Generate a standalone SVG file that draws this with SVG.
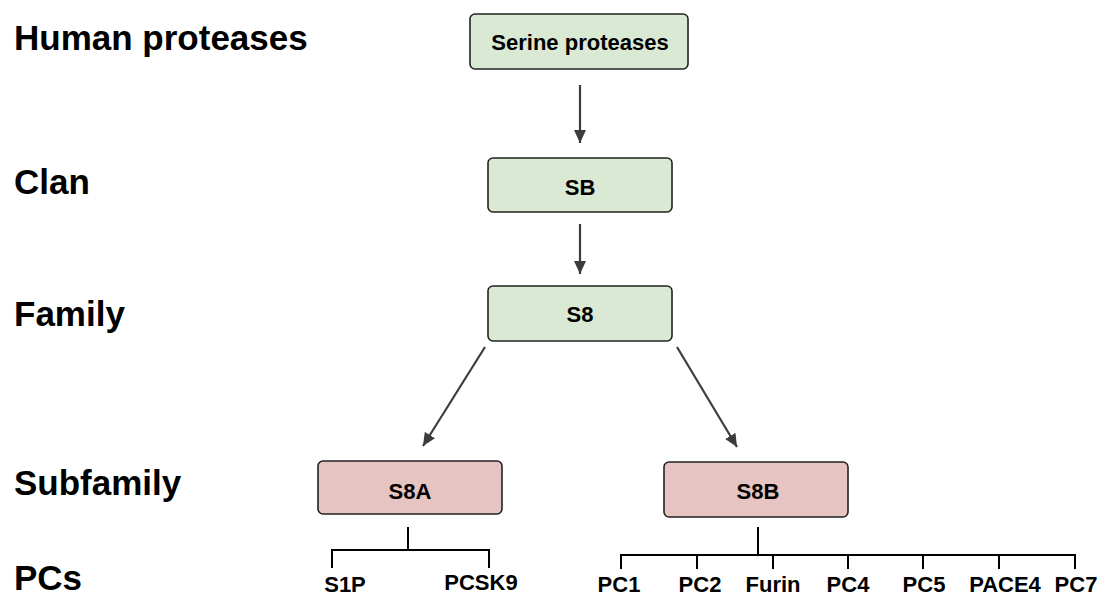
<svg xmlns="http://www.w3.org/2000/svg" width="1102" height="598" viewBox="0 0 1102 598">
<style>
.lbl{font-family:"Liberation Sans",Arial,sans-serif;font-weight:bold;font-size:35px;fill:#000}
.nt{font-family:"Liberation Sans",Arial,sans-serif;font-weight:bold;font-size:22px;fill:#000;text-anchor:middle}
.green{fill:#d9e9d4;stroke:#222;stroke-width:1.6}
.pink{fill:#e6c4c2;stroke:#222;stroke-width:1.6}
.arr{stroke:#3c3c3c;stroke-width:2.2;fill:none;marker-end:url(#ah)}
.br{stroke:#000;stroke-width:2;fill:none}
</style>
<defs>
<marker id="ah" markerUnits="userSpaceOnUse" markerWidth="14" markerHeight="12" refX="13" refY="6" orient="auto">
<path d="M0,0 L13,6 L0,12 Z" fill="#3c3c3c"/>
</marker>
</defs>
<rect width="1102" height="598" fill="#fff"/>
<g id="levels">
<text class="lbl" x="14" y="50">Human proteases</text>
<text class="lbl" x="14" y="194">Clan</text>
<text class="lbl" x="14" y="326">Family</text>
<text class="lbl" x="14" y="495">Subfamily</text>
<text class="lbl" x="14" y="590">PCs</text>
</g>
<g id="n-serine"><rect class="green" x="470" y="14" width="218" height="55" rx="5"/><text class="nt" x="580" y="50">Serine proteases</text></g>
<g id="n-sb"><rect class="green" x="488" y="158" width="184" height="54" rx="5"/><text class="nt" x="580" y="195">SB</text></g>
<g id="n-s8"><rect class="green" x="488" y="286" width="184" height="55" rx="5"/><text class="nt" x="580" y="322">S8</text></g>
<g id="n-s8a"><rect class="pink" x="318" y="461" width="184" height="53" rx="5"/><text class="nt" x="410" y="499">S8A</text></g>
<g id="n-s8b"><rect class="pink" x="664" y="462" width="184" height="55" rx="5"/><text class="nt" x="758" y="499">S8B</text></g>
<g id="connectors">
<line class="arr" x1="580" y1="85" x2="580" y2="143"/>
<line class="arr" x1="580" y1="224" x2="580" y2="274"/>
<line class="arr" x1="485" y1="347" x2="423" y2="446"/>
<line class="arr" x1="677" y1="347" x2="737" y2="447"/>
<path class="br" d="M408,527 V550 M332,550 H489 M332,549 V568 M489,549 V568"/>
<path class="br" d="M758,527 V555 M621,555 H1075 M621,554 V569 M697,554 V569 M773,554 V569 M848,554 V569 M923,554 V569 M999,554 V569 M1075,554 V569"/>
</g>
<g id="pcs">
<text class="nt" x="345" y="592">S1P</text>
<text class="nt" x="481" y="590">PCSK9</text>
<text class="nt" x="619" y="592">PC1</text>
<text class="nt" x="700" y="592">PC2</text>
<text class="nt" x="773" y="592">Furin</text>
<text class="nt" x="848" y="592">PC4</text>
<text class="nt" x="924" y="592">PC5</text>
<text class="nt" x="1005" y="592">PACE4</text>
<text class="nt" x="1076" y="592">PC7</text>
</g>
</svg>
